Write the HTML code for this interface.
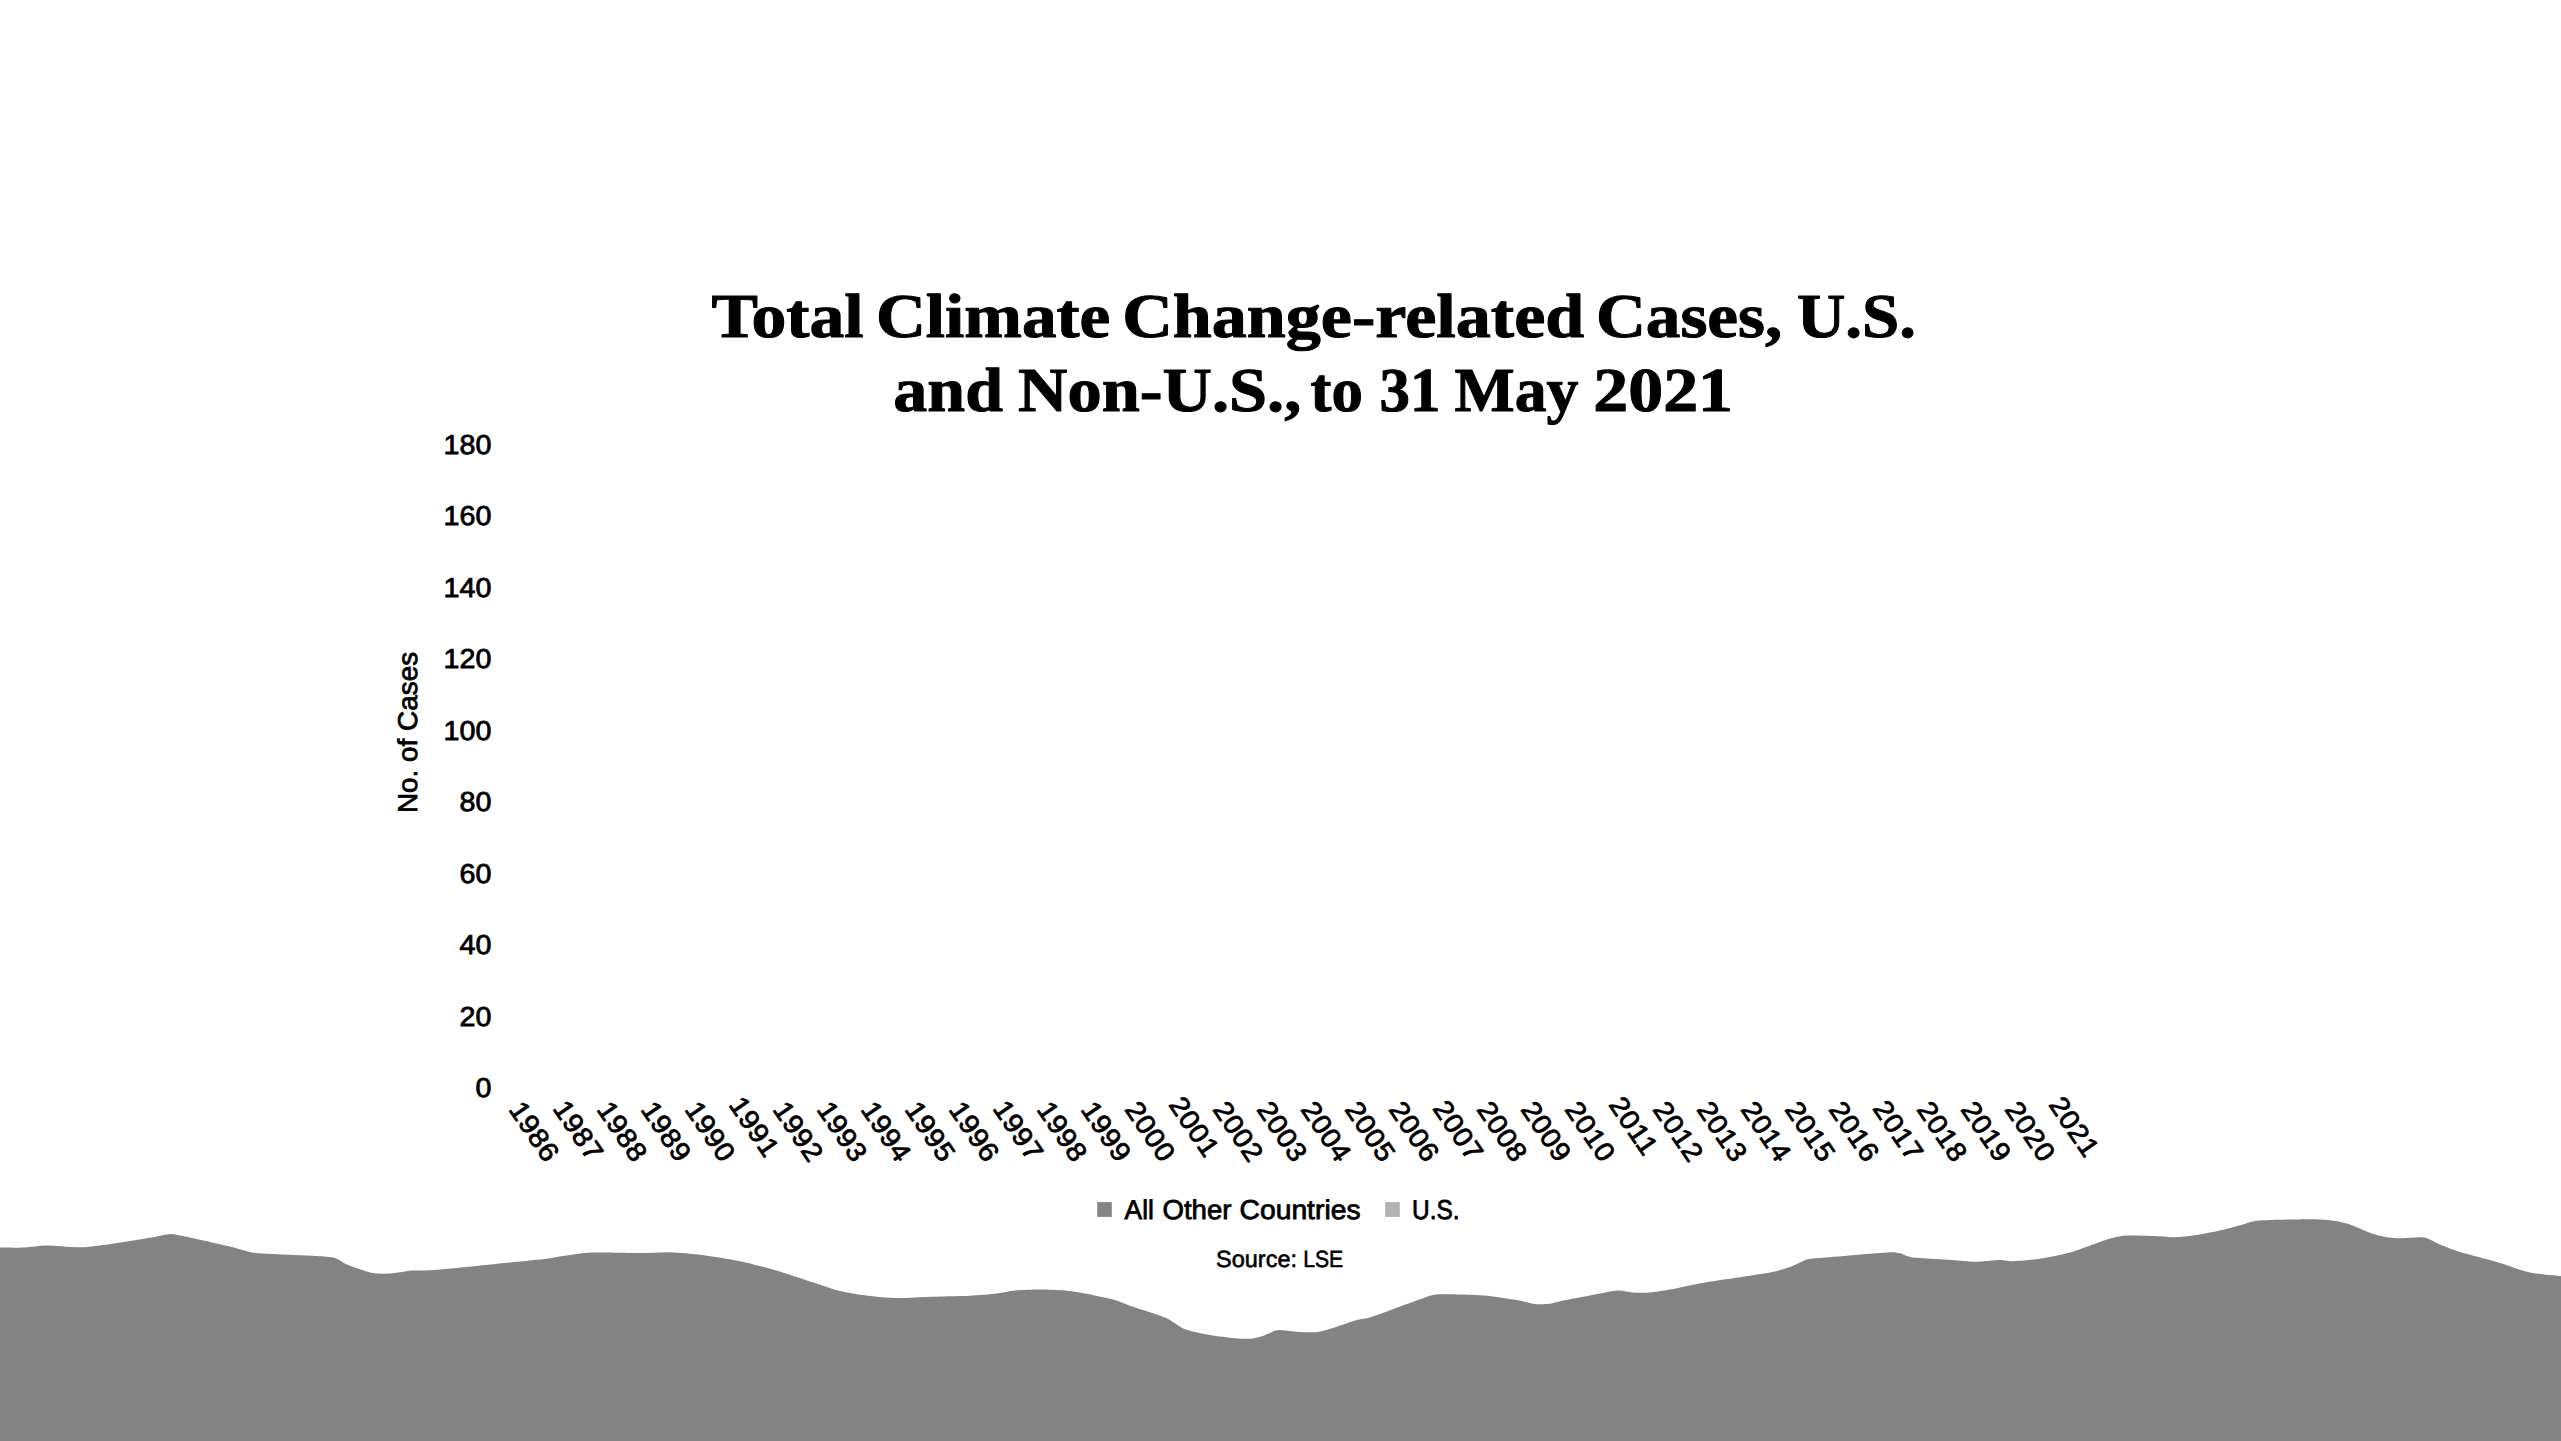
<!DOCTYPE html>
<html lang="en"><head><meta charset="utf-8"><title>Total Climate Change-related Cases</title>
<style>html,body{margin:0;padding:0;background:#fff;}body{width:2561px;height:1441px;overflow:hidden;}svg{display:block;text-rendering:geometricPrecision;}
.s{font-family:"Liberation Sans", sans-serif;fill:#000;stroke:#000;stroke-width:0.8px;}.m{font-family:"Liberation Sans", sans-serif;fill:#000;stroke:#000;stroke-width:0.8px;}.n{font-family:"Liberation Sans", sans-serif;fill:#000;stroke:#000;stroke-width:0.6px;}.t{font-family:"Liberation Serif", serif;font-weight:bold;fill:#000;stroke:#000;stroke-width:1px;stroke-linejoin:round;}
</style></head><body>
<svg width="2561" height="1441" viewBox="0 0 2561 1441">
<rect width="2561" height="1441" fill="#fff"/>
<path d="M0,1441 L0.0,1247.5 C3.3,1247.5 18.9,1247.8 25.0,1247.5 C31.1,1247.2 39.0,1245.6 46.0,1245.5 C54.3,1245.4 73.4,1248.0 87.0,1247.0 C101.1,1245.9 140.9,1239.2 152.0,1237.5 C158.0,1236.6 165.6,1234.1 170.0,1234.0 C174.4,1233.9 180.0,1235.5 185.0,1236.5 C193.3,1238.2 223.1,1244.9 232.0,1247.0 C238.7,1248.6 246.7,1251.6 252.0,1252.5 C257.3,1253.4 265.3,1253.6 272.0,1254.0 C280.7,1254.5 308.6,1255.5 317.0,1256.0 C323.0,1256.4 331.0,1256.9 335.0,1258.0 C339.0,1259.1 342.8,1262.8 347.0,1264.5 C351.7,1266.4 365.3,1271.3 370.0,1272.5 C373.9,1273.5 378.7,1273.6 382.0,1273.7 C385.3,1273.8 391.3,1273.4 395.0,1273.0 C398.7,1272.6 405.0,1271.1 410.0,1270.7 C415.3,1270.3 426.7,1270.7 435.0,1270.0 C453.3,1268.4 530.7,1260.4 547.0,1258.7 C550.4,1258.3 553.7,1257.5 557.0,1257.0 C562.1,1256.2 579.3,1253.6 585.0,1253.0 C590.0,1252.5 595.0,1252.5 600.0,1252.5 C607.3,1252.5 630.7,1253.0 640.0,1253.0 C649.3,1253.0 661.7,1251.9 670.0,1252.2 C678.3,1252.5 692.7,1253.8 702.0,1255.0 C711.3,1256.2 730.0,1259.1 740.0,1261.2 C750.0,1263.3 767.0,1267.8 777.0,1270.7 C787.0,1273.6 807.3,1280.5 815.0,1283.0 C821.7,1285.2 829.4,1288.2 835.0,1289.7 C840.6,1291.2 850.7,1293.2 857.0,1294.2 C863.3,1295.2 876.0,1296.7 882.0,1297.2 C888.0,1297.7 895.3,1298.1 902.0,1298.0 C909.7,1297.9 930.9,1296.8 940.0,1296.5 C949.1,1296.2 962.4,1296.1 970.0,1295.7 C977.6,1295.3 991.0,1294.2 997.0,1293.5 C1003.0,1292.8 1009.3,1291.0 1015.0,1290.5 C1020.7,1290.0 1033.3,1289.5 1040.0,1289.5 C1046.7,1289.5 1059.0,1290.0 1065.0,1290.5 C1071.0,1291.0 1078.4,1292.2 1085.0,1293.5 C1091.7,1294.8 1109.0,1298.4 1115.0,1300.0 C1120.2,1301.4 1125.0,1303.9 1130.0,1305.7 C1136.7,1308.0 1157.7,1314.4 1165.0,1317.5 C1172.1,1320.5 1179.0,1326.9 1185.0,1329.2 C1191.0,1331.5 1203.3,1333.8 1210.0,1335.0 C1216.7,1336.2 1229.7,1337.7 1235.0,1338.2 C1240.0,1338.7 1246.4,1339.0 1250.0,1338.7 C1253.6,1338.4 1258.7,1337.3 1262.0,1336.2 C1265.3,1335.1 1272.6,1331.5 1275.0,1330.7 C1276.6,1330.2 1278.3,1329.9 1280.0,1330.0 C1283.6,1330.2 1296.4,1332.0 1302.0,1332.2 C1307.6,1332.4 1315.5,1332.6 1322.0,1331.2 C1329.3,1329.6 1350.6,1321.8 1357.0,1320.0 C1361.2,1318.8 1365.8,1318.9 1370.0,1317.5 C1379.7,1314.3 1420.4,1298.8 1430.0,1295.7 C1433.8,1294.5 1438.0,1294.3 1442.0,1294.2 C1447.3,1294.1 1463.6,1294.5 1470.0,1294.7 C1476.4,1294.9 1483.4,1295.2 1490.0,1296.0 C1496.9,1296.8 1516.0,1299.9 1522.0,1301.0 C1526.4,1301.8 1531.3,1303.6 1535.0,1304.0 C1538.7,1304.4 1546.7,1304.1 1550.0,1303.7 C1553.3,1303.3 1556.6,1301.9 1560.0,1301.2 C1568.7,1299.5 1606.7,1292.1 1615.0,1290.7 C1617.3,1290.3 1619.7,1290.5 1622.0,1290.7 C1624.7,1291.0 1631.3,1292.5 1635.0,1292.7 C1638.7,1292.9 1645.3,1292.9 1650.0,1292.5 C1654.7,1292.1 1663.4,1290.7 1670.0,1289.5 C1677.3,1288.2 1693.3,1284.5 1705.0,1282.5 C1718.3,1280.2 1758.7,1274.6 1770.0,1272.5 C1776.8,1271.3 1785.1,1268.7 1790.0,1267.0 C1794.9,1265.3 1803.0,1260.7 1807.0,1259.5 C1811.0,1258.3 1815.7,1258.4 1820.0,1258.0 C1831.1,1257.0 1879.3,1252.8 1890.0,1252.2 C1893.3,1252.0 1897.3,1252.6 1900.0,1253.2 C1902.7,1253.8 1907.3,1256.4 1910.0,1257.0 C1912.7,1257.6 1916.7,1257.8 1920.0,1258.0 C1925.6,1258.4 1944.7,1259.5 1952.0,1260.0 C1959.3,1260.5 1968.6,1261.7 1975.0,1261.7 C1981.4,1261.7 1995.1,1260.1 2000.0,1260.0 C2004.0,1259.9 2008.0,1261.3 2012.0,1261.2 C2017.3,1261.0 2032.3,1259.9 2040.0,1258.7 C2047.7,1257.5 2062.7,1254.5 2070.0,1252.5 C2077.3,1250.5 2089.4,1245.6 2095.0,1243.7 C2100.6,1241.8 2107.7,1239.1 2112.0,1238.0 C2116.3,1236.9 2121.9,1235.7 2127.0,1235.5 C2133.4,1235.3 2153.6,1236.0 2160.0,1236.2 C2165.0,1236.4 2170.1,1237.4 2175.0,1237.2 C2179.9,1237.0 2190.7,1236.0 2197.0,1235.0 C2203.3,1234.0 2216.1,1231.3 2222.0,1230.0 C2227.9,1228.7 2236.6,1226.2 2241.0,1225.0 C2245.4,1223.8 2250.9,1221.7 2255.0,1221.0 C2259.1,1220.3 2266.3,1220.2 2272.0,1220.0 C2279.3,1219.8 2302.0,1219.1 2310.0,1219.2 C2317.3,1219.2 2327.1,1219.8 2332.0,1220.4 C2336.9,1221.0 2343.0,1222.3 2347.0,1223.5 C2351.0,1224.7 2358.3,1227.9 2362.0,1229.4 C2365.7,1230.9 2371.4,1233.3 2375.0,1234.4 C2378.6,1235.5 2385.7,1237.0 2389.0,1237.5 C2392.3,1238.0 2396.3,1238.2 2400.0,1238.2 C2404.1,1238.2 2416.4,1237.2 2420.0,1237.2 C2422.4,1237.2 2424.8,1237.4 2427.0,1238.2 C2429.8,1239.2 2436.6,1243.2 2441.0,1245.0 C2445.4,1246.8 2454.1,1250.1 2460.0,1251.9 C2465.9,1253.7 2479.7,1257.2 2485.0,1258.7 C2490.0,1260.1 2495.0,1261.5 2500.0,1263.0 C2506.0,1264.8 2521.9,1270.8 2530.0,1272.5 C2538.1,1274.2 2556.9,1275.5 2561.0,1276.0 L2561,1441 Z" fill="#838383"/>
<text class="t" font-size="62.5" transform="translate(711.40,337.00) scale(1.1140,1)">Total</text>
<text class="t" font-size="62.5" transform="translate(875.88,337.00) scale(1.1073,1)">Climate</text>
<text class="t" font-size="62.5" transform="translate(1122.14,337.00) scale(1.1216,1)">Change-related</text>
<text class="t" font-size="62.5" transform="translate(1595.88,337.00) scale(1.1070,1)">Cases,</text>
<text class="t" font-size="62.5" transform="translate(1796.93,337.00) scale(1.0714,1)">U.S.</text>
<text class="t" font-size="62.5" transform="translate(893.32,411.00) scale(1.0878,1)">and</text>
<text class="t" font-size="62.5" transform="translate(1018.11,411.00) scale(1.0945,1)">Non-U.S.,</text>
<text class="t" font-size="62.5" transform="translate(1310.50,411.00) scale(1.0038,1)">to</text>
<text class="t" font-size="62.5" transform="translate(1379.55,411.00) scale(0.9734,1)">31</text>
<text class="t" font-size="62.5" transform="translate(1454.48,411.00) scale(1.0205,1)">May</text>
<text class="t" font-size="62.5" transform="translate(1593.26,411.00) scale(1.1180,1)">2021</text>
<text class="s" font-size="27.3" transform="translate(475.45,1097.00) scale(1.0500,1)">0</text>
<text class="s" font-size="27.3" transform="translate(459.51,1025.56) scale(1.0500,1)">20</text>
<text class="s" font-size="27.3" transform="translate(459.51,954.12) scale(1.0500,1)">40</text>
<text class="s" font-size="27.3" transform="translate(459.51,882.68) scale(1.0500,1)">60</text>
<text class="s" font-size="27.3" transform="translate(459.51,811.24) scale(1.0500,1)">80</text>
<text class="s" font-size="27.3" transform="translate(443.57,739.80) scale(1.0500,1)">100</text>
<text class="s" font-size="27.3" transform="translate(443.57,668.36) scale(1.0500,1)">120</text>
<text class="s" font-size="27.3" transform="translate(443.57,596.92) scale(1.0500,1)">140</text>
<text class="s" font-size="27.3" transform="translate(443.57,525.48) scale(1.0500,1)">160</text>
<text class="s" font-size="27.3" transform="translate(443.57,454.04) scale(1.0500,1)">180</text>
<text class="s" font-size="27.2" text-anchor="middle" transform="translate(416.8,732.5) rotate(-90) scale(1.026,1)">No. of Cases</text>
<text class="s" font-size="27.3" letter-spacing="0.6" transform="translate(507.90,1109.40) rotate(55.7) scale(1.0500,1)">1986</text>
<text class="s" font-size="27.3" letter-spacing="0.6" transform="translate(551.90,1108.40) rotate(55.7) scale(1.0500,1)">1987</text>
<text class="s" font-size="27.3" letter-spacing="0.6" transform="translate(595.90,1109.40) rotate(55.7) scale(1.0500,1)">1988</text>
<text class="s" font-size="27.3" letter-spacing="0.6" transform="translate(639.90,1109.40) rotate(55.7) scale(1.0500,1)">1989</text>
<text class="s" font-size="27.3" letter-spacing="0.6" transform="translate(683.90,1109.40) rotate(55.7) scale(1.0500,1)">1990</text>
<text class="s" font-size="27.3" letter-spacing="0.6" transform="translate(727.90,1104.70) rotate(55.7) scale(1.0500,1)">1991</text>
<text class="s" font-size="27.3" letter-spacing="0.6" transform="translate(771.90,1109.40) rotate(55.7) scale(1.0500,1)">1992</text>
<text class="s" font-size="27.3" letter-spacing="0.6" transform="translate(815.90,1109.40) rotate(55.7) scale(1.0500,1)">1993</text>
<text class="s" font-size="27.3" letter-spacing="0.6" transform="translate(859.90,1109.40) rotate(55.7) scale(1.0500,1)">1994</text>
<text class="s" font-size="27.3" letter-spacing="0.6" transform="translate(903.90,1109.40) rotate(55.7) scale(1.0500,1)">1995</text>
<text class="s" font-size="27.3" letter-spacing="0.6" transform="translate(947.90,1109.40) rotate(55.7) scale(1.0500,1)">1996</text>
<text class="s" font-size="27.3" letter-spacing="0.6" transform="translate(991.90,1108.40) rotate(55.7) scale(1.0500,1)">1997</text>
<text class="s" font-size="27.3" letter-spacing="0.6" transform="translate(1035.90,1109.40) rotate(55.7) scale(1.0500,1)">1998</text>
<text class="s" font-size="27.3" letter-spacing="0.6" transform="translate(1079.90,1109.40) rotate(55.7) scale(1.0500,1)">1999</text>
<text class="s" font-size="27.3" letter-spacing="0.6" transform="translate(1123.90,1109.40) rotate(55.7) scale(1.0500,1)">2000</text>
<text class="s" font-size="27.3" letter-spacing="0.6" transform="translate(1167.90,1104.70) rotate(55.7) scale(1.0500,1)">2001</text>
<text class="s" font-size="27.3" letter-spacing="0.6" transform="translate(1211.90,1109.40) rotate(55.7) scale(1.0500,1)">2002</text>
<text class="s" font-size="27.3" letter-spacing="0.6" transform="translate(1255.90,1109.40) rotate(55.7) scale(1.0500,1)">2003</text>
<text class="s" font-size="27.3" letter-spacing="0.6" transform="translate(1299.90,1109.40) rotate(55.7) scale(1.0500,1)">2004</text>
<text class="s" font-size="27.3" letter-spacing="0.6" transform="translate(1343.90,1109.40) rotate(55.7) scale(1.0500,1)">2005</text>
<text class="s" font-size="27.3" letter-spacing="0.6" transform="translate(1387.90,1109.40) rotate(55.7) scale(1.0500,1)">2006</text>
<text class="s" font-size="27.3" letter-spacing="0.6" transform="translate(1431.90,1108.40) rotate(55.7) scale(1.0500,1)">2007</text>
<text class="s" font-size="27.3" letter-spacing="0.6" transform="translate(1475.90,1109.40) rotate(55.7) scale(1.0500,1)">2008</text>
<text class="s" font-size="27.3" letter-spacing="0.6" transform="translate(1519.90,1109.40) rotate(55.7) scale(1.0500,1)">2009</text>
<text class="s" font-size="27.3" letter-spacing="0.6" transform="translate(1563.90,1109.40) rotate(55.7) scale(1.0500,1)">2010</text>
<text class="s" font-size="27.3" letter-spacing="0.6" transform="translate(1607.90,1104.70) rotate(55.7) scale(1.0500,1)">2011</text>
<text class="s" font-size="27.3" letter-spacing="0.6" transform="translate(1651.90,1109.40) rotate(55.7) scale(1.0500,1)">2012</text>
<text class="s" font-size="27.3" letter-spacing="0.6" transform="translate(1695.90,1109.40) rotate(55.7) scale(1.0500,1)">2013</text>
<text class="s" font-size="27.3" letter-spacing="0.6" transform="translate(1739.90,1109.40) rotate(55.7) scale(1.0500,1)">2014</text>
<text class="s" font-size="27.3" letter-spacing="0.6" transform="translate(1783.90,1109.40) rotate(55.7) scale(1.0500,1)">2015</text>
<text class="s" font-size="27.3" letter-spacing="0.6" transform="translate(1827.90,1109.40) rotate(55.7) scale(1.0500,1)">2016</text>
<text class="s" font-size="27.3" letter-spacing="0.6" transform="translate(1871.90,1108.40) rotate(55.7) scale(1.0500,1)">2017</text>
<text class="s" font-size="27.3" letter-spacing="0.6" transform="translate(1915.90,1109.40) rotate(55.7) scale(1.0500,1)">2018</text>
<text class="s" font-size="27.3" letter-spacing="0.6" transform="translate(1959.90,1109.40) rotate(55.7) scale(1.0500,1)">2019</text>
<text class="s" font-size="27.3" letter-spacing="0.6" transform="translate(2003.90,1109.40) rotate(55.7) scale(1.0500,1)">2020</text>
<text class="s" font-size="27.3" letter-spacing="0.6" transform="translate(2047.90,1104.70) rotate(55.7) scale(1.0500,1)">2021</text>
<rect x="1097.2" y="1202.1" width="14.6" height="14.8" fill="#848484"/>
<rect x="1385.2" y="1202.1" width="14.6" height="14.8" fill="#b2b2b2"/>
<text class="m" font-size="27.2" transform="translate(1124.60,1219.00) scale(0.9666,1)">All</text>
<text class="m" font-size="27.2" transform="translate(1162.49,1219.00) scale(1.0143,1)">Other</text>
<text class="m" font-size="27.2" transform="translate(1239.56,1219.00) scale(1.0395,1)">Countries</text>
<text class="m" font-size="27.2" transform="translate(1412.10,1219.00) scale(0.8982,1)">U.S.</text>
<text class="n" font-size="23.4" transform="translate(1216.10,1267.00) scale(1.0037,1)">Source:</text>
<text class="n" font-size="23.4" transform="translate(1303.19,1267.00) scale(0.9059,1)">LSE</text>
</svg></body></html>
